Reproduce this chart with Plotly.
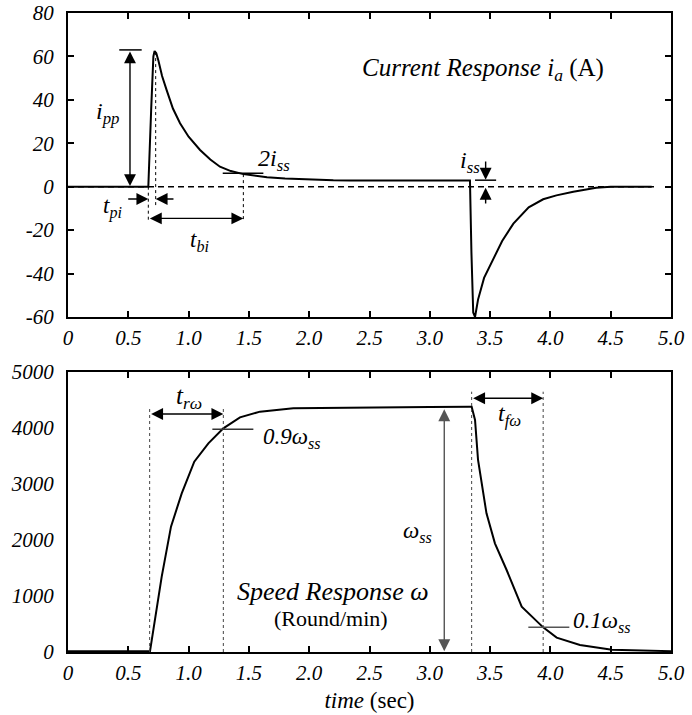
import plotly.graph_objects as go

# ---------------- data ----------------
t_current = [0, 0.666, 0.690, 0.708, 0.718, 0.732, 0.750, 0.780, 0.818, 0.870, 0.929, 1.000,
             1.095, 1.180, 1.260, 1.350, 1.454, 1.550, 1.650, 1.800, 2.000, 2.200, 2.340,
             2.600, 3.000, 3.333, 3.345, 3.360, 3.375, 3.400, 3.450, 3.527, 3.600, 3.693,
             3.820, 3.940, 4.050, 4.190, 4.380, 4.500, 4.840]
i_current = [0, 0, 36, 60, 62.5, 61.5, 58, 51, 44.5, 36, 29.2, 23,
             16.9, 12.5, 9.2, 7.2, 5.8, 5.0, 4.4, 3.8, 3.3, 3.0, 2.9,
             2.8, 2.8, 2.8, -30, -58, -60, -52, -42, -33, -25, -17,
             -9.5, -5.8, -4.0, -2.3, -0.5, 0, 0]

t_speed = [0, 0.680, 0.777, 0.854, 0.943, 1.047, 1.164, 1.288, 1.426, 1.592, 1.868,
           2.500, 3.000, 3.330, 3.347, 3.375, 3.400, 3.470, 3.540, 3.637, 3.762, 3.940,
           4.052, 4.245, 4.510, 5.000]
w_speed = [15, 15, 1345, 2238, 2833, 3399, 3726, 3994, 4190, 4292, 4351,
           4370, 4375, 4380, 4381, 4143, 3429, 2476, 1940, 1464, 810, 440,
           256, 125, 40, 15]

x_tickvals = [0, 0.5, 1.0, 1.5, 2.0, 2.5, 3.0, 3.5, 4.0, 4.5, 5.0]
x_ticktext = ["0", "0.5", "1.0", "1.5", "2.0", "2.5", "3.0", "3.5", "4.0", "4.5", "5.0"]
yi_tickvals = [-60, -40, -20, 0, 20, 40, 60, 80]
yi_ticktext = ["-60", "-40", "-20", "0", "20", "40", "60", "80"]
yw_tickvals = [0, 1000, 2000, 3000, 4000, 5000]
yw_ticktext = ["0", "1000", "2000", "3000", "4000", "5000"]

# characteristic values marked on the chart
t_on, t_peak, t_2iss_pt, i_peak, i_2ss, i_ss = 0.666, 0.727, 1.454, 63, 6.2, 3.0
t_end_dash = 4.87
t_rise0, t_rise90, w_ss, w_90 = 0.677, 1.288, 4381, 3976
t_fall0, t_fall10, w_10 = 3.347, 3.94, 440

FONT = "Liberation Serif, Times New Roman, serif"

fig = go.Figure()
fig.add_trace(go.Scatter(x=[0, t_end_dash], y=[0, 0], mode="lines",
                         line=dict(color="black", width=1.6, dash="6px,4px"),
                         xaxis="x", yaxis="y", showlegend=False, hoverinfo="skip"))
fig.add_trace(go.Scatter(x=t_current, y=i_current, mode="lines",
                         line=dict(color="black", width=2),
                         xaxis="x", yaxis="y", showlegend=False))
fig.add_trace(go.Scatter(x=t_speed, y=w_speed, mode="lines",
                         line=dict(color="black", width=2),
                         xaxis="x2", yaxis="y2", showlegend=False))

tickfont = dict(family=FONT, size=21, color="black", style="italic")
axis_common = dict(showline=True, linecolor="black", linewidth=2, mirror="ticks",
                   ticks="inside", tickcolor="black", tickwidth=1.5, ticklen=6,
                   showgrid=False, zeroline=False, tickfont=tickfont, automargin=False)

fig.update_layout(
    width=692, height=715,
    margin=dict(l=68, r=21, t=13, b=63),
    paper_bgcolor="white", plot_bgcolor="white",
    font=dict(family=FONT, color="black"),
    xaxis=dict(domain=[0, 1], range=[0, 5], anchor="y", tickvals=x_tickvals,
               ticktext=x_ticktext, ticklabelstandoff=1, **axis_common),
    yaxis=dict(domain=[0.5243, 1], range=[-60, 80], anchor="x", tickvals=yi_tickvals,
               ticktext=yi_ticktext, ticklabelstandoff=8, **axis_common),
    xaxis2=dict(domain=[0, 1], range=[0, 5], anchor="y2", tickvals=x_tickvals,
                ticktext=x_ticktext, ticklabelstandoff=1,
                title=dict(text="<i>time</i> (sec)", font=dict(family=FONT, size=23, color="black"),
                           standoff=8), **axis_common),
    yaxis2=dict(domain=[0, 0.4382], range=[0, 5000], anchor="x2", tickvals=yw_tickvals,
                ticktext=yw_ticktext, ticklabelstandoff=8,
                **{**axis_common, "ticklen": 0}),
)

shapes = []
def seg(xr, yr, x0, y0, x1, y1, color="black", width=1, dash="solid"):
    shapes.append(dict(type="line", xref=xr, yref=yr, x0=x0, y0=y0, x1=x1, y1=y1,
                       line=dict(color=color, width=width, dash=dash)))

# top chart markers
seg("x", "y", 0.425, i_peak, 0.611, i_peak, width=1.5)
seg("x", "y", t_on, 0, t_on, -15.3, dash="dot")
seg("x", "y", t_peak, 62, t_peak, -9.8, dash="dot")
seg("x", "y", t_2iss_pt, i_2ss - 0.4, t_2iss_pt, -15.3, dash="dot")
seg("x", "y", 1.283, i_2ss, 1.62, i_2ss, width=1.5)
seg("x", "y", 3.375, i_ss, 3.55, i_ss, width=1.5)
# bottom chart markers
seg("x2", "y2", t_rise0, 0, t_rise0, w_ss, dash="dot", color="#444")
seg("x2", "y2", t_rise90, 0, t_rise90, w_ss, dash="dot", color="#444")
seg("x2", "y2", 1.197, w_90, 1.537, w_90, width=1.5, color="#333")
seg("x2", "y2", t_fall0, 0, t_fall0, 4648, dash="dot", color="#444")
seg("x2", "y2", t_fall10, 0, t_fall10, 4648, dash="dot", color="#444")
seg("x2", "y2", 3.817, w_10, 4.157, w_10, width=1.5, color="#555")
fig.update_layout(shapes=shapes)

ann = []
def arrow(xr, yr, x0, y0, x1, y1, both=False, color="black"):
    ann.append(dict(xref=xr, yref=yr, axref=xr, ayref=yr, x=x1, y=y1, ax=x0, ay=y0,
                    text="", showarrow=True, arrowhead=2, arrowsize=1.7, arrowwidth=1.4,
                    arrowcolor=color, arrowside="end+start" if both else "end"))
def label(xr, yr, x, y, text, size=21, xanchor="center"):
    ann.append(dict(xref=xr, yref=yr, x=x, y=y, text=text, showarrow=False,
                    xanchor=xanchor, yanchor="middle",
                    font=dict(family=FONT, size=size, color="black")))

arrow("x", "y", 0.514, i_peak, 0.514, 0.3, both=True)
arrow("x", "y", 0.487, -5.7, t_on, -5.7)
arrow("x", "y", 0.887, -5.7, t_peak, -5.7)
arrow("x", "y", t_on, -14.6, t_2iss_pt, -14.6, both=True)
arrow("x", "y", 3.463, 12.3, 3.463, i_ss + 0.2)
arrow("x", "y", 3.463, -8.4, 3.463, -0.5)
label("x", "y", 0.33, 34, "<i>i<sub>pp</sub></i>", size=24)
label("x", "y", 0.37, -9.5, "<i>t<sub>pi</sub></i>", size=23)
label("x", "y", 1.09, -25, "<i>t<sub>bi</sub></i>", size=23)
label("x", "y", 1.56, 12.5, "<i>2i<sub>ss</sub></i>", size=24, xanchor="left")
label("x", "y", 3.33, 11.5, "<i>i<sub>ss</sub></i>", size=24)
label("x", "y", 3.44, 54, "<i>Current Response i<sub>a</sub></i> (A)", size=25)

arrow("x2", "y2", t_rise0, 4250, t_rise90, 4250, both=True)
arrow("x2", "y2", 3.12, w_ss - 20, 3.12, 15, both=True, color="#555")
arrow("x2", "y2", t_fall0, 4530, t_fall10, 4530, both=True)
label("x2", "y2", 1.0, 4540, "<i>t<sub>rω</sub></i>", size=25)
label("x2", "y2", 1.6, 3830, "<i>0.9ω<sub>ss</sub></i>", size=23, xanchor="left")
label("x2", "y2", 2.9, 2150, "<i>ω<sub>ss</sub></i>", size=23)
label("x2", "y2", 3.66, 4230, "<i>t<sub>fω</sub></i>", size=24)
label("x2", "y2", 4.17, 530, "<i>0.1ω<sub>ss</sub></i>", size=23, xanchor="left")
label("x2", "y2", 2.2, 1075, "<i>Speed Response ω</i>", size=26)
label("x2", "y2", 2.18, 590, "(Round/min)", size=22)
fig.update_layout(annotations=ann)

fig.write_html("out.html")
